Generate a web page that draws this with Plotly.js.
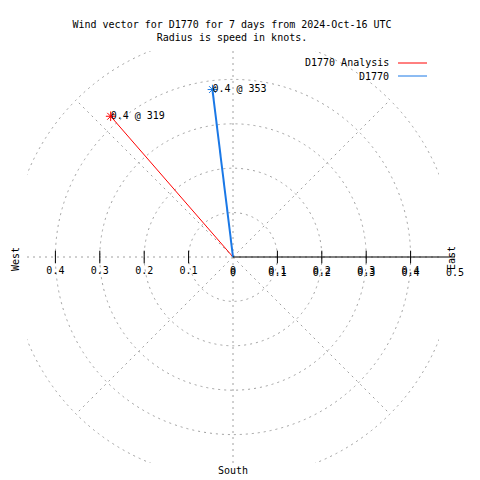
<!DOCTYPE html>
<html>
<head>
<meta charset="utf-8">
<script src="https://cdn.plot.ly/plotly-3.0.1.min.js"></script>
<style>html,body{margin:0;padding:0;background:#fff;}#chart{width:480px;height:480px;}</style>
</head>
<body>
<div id="chart"></div>
<script>
// ---- data ----
const seriesNames = ['D1770 Analysis', 'D1770'];
const speeds = [0.42, 0.38];          // knots
const directions = [319, 353];        // degrees (compass)
const seriesColors = ['#ff0000', '#1a78e6'];
const seriesWidths = [1, 2];
const gridRadii = [0.1, 0.2, 0.3, 0.4, 0.5];
const gridAngles = [0, 45, 90, 135, 180, 225, 270, 315];
const xTickVals = [-0.4, -0.3, -0.2, -0.1, 0, 0.1, 0.2, 0.3, 0.4];
const xTickText = ['0.4', '0.3', '0.2', '0.1', '0', '0.1', '0.2', '0.3', '0.4'];
const rTickVals = [0, 0.1, 0.2, 0.3, 0.4, 0.5];
const rTickText = ['0', '0.1', '0.2', '0.3', '0.4', '0.5'];
const titleText = 'Wind vector for D1770 for 7 days from 2024-Oct-16 UTC<br>Radius is speed in knots.';

// ---- geometry ----
const W = 480, H = 480;
const CX = 233, CY = 257, RPX = 222, RMAX = 0.5, HALF = 206;
const clipRange = HALF / RPX * RMAX;
const FONT = 'DejaVu Sans Mono';
const GRID = '#a0a0a0';

const traces = [];
// tick marks on horizontal axis
traces.push({
  type: 'scatter', x: xTickVals.filter(v => v !== 0), y: xTickVals.filter(v => v !== 0).map(() => 0),
  mode: 'markers', cliponaxis: false, hoverinfo: 'skip', showlegend: false,
  marker: {symbol: 'line-ns-open', size: 9, color: '#000', line: {color: '#000', width: 1}},
  xaxis: 'x', yaxis: 'y'
});
// wind vectors
seriesNames.forEach((name, i) => {
  traces.push({
    type: 'scatterpolar', subplot: 'polar', name: name, showlegend: false,
    r: [0, speeds[i]], theta: [directions[i], directions[i]],
    mode: 'lines', line: {color: seriesColors[i], width: seriesWidths[i]}
  });
  traces.push({
    type: 'scatterpolar', subplot: 'polar', name: name, showlegend: false,
    r: [speeds[i]], theta: [directions[i]],
    mode: 'markers', 
    marker: {symbol: 'asterisk-open', size: 8, color: seriesColors[i], line: {color: seriesColors[i], width: 1}}
  });
  traces.push({
    type: 'scatterpolar', subplot: 'polar', name: name, showlegend: false,
    r: [speeds[i]], theta: [directions[i]],
    mode: 'text', text: [speeds[i].toFixed(1) + ' @ ' + directions[i]],
    textposition: 'middle right', textfont: {family: FONT, size: 10, color: '#000'}
  });
});

const shapes = [];
gridRadii.forEach(r => shapes.push({
  type: 'circle', xref: 'x', yref: 'y', x0: -r, x1: r, y0: -r, y1: r, layer: 'below',
  line: {color: GRID, width: 1, dash: '2px,4px'}
}));
gridAngles.forEach(a => shapes.push({
  type: 'line', xref: 'x', yref: 'y', x0: 0, y0: 0,
  x1: RMAX * Math.cos(a * Math.PI / 180), y1: RMAX * Math.sin(a * Math.PI / 180), layer: 'below',
  line: {color: GRID, width: 1, dash: '2px,4px'}
}));
// legend samples
const legX0 = 398 / W, legX1 = 427 / W, legTextX = 391 / W;
const legY = [63, 76];
const annotations = [];
seriesNames.forEach((name, i) => {
  shapes.push({type: 'line', xref: 'paper', yref: 'paper', x0: legX0, x1: legX1,
    y0: 1 - legY[i] / H, y1: 1 - legY[i] / H, line: {color: seriesColors[i], width: 1}});
  annotations.push({xref: 'paper', yref: 'paper', x: legTextX, y: 1 - legY[i] / H,
    xanchor: 'right', yanchor: 'middle', text: name, showarrow: false,
    font: {family: FONT, size: 10, color: '#000'}});
});
annotations.push({xref: 'paper', yref: 'paper', x: 15 / W, y: 1 - 259 / H, text: 'West', textangle: -90,
  showarrow: false, xanchor: 'center', yanchor: 'middle', font: {family: FONT, size: 10, color: '#000'}});
annotations.push({xref: 'paper', yref: 'paper', x: 451 / W, y: 1 - 258 / H, text: 'East', textangle: -90,
  showarrow: false, xanchor: 'center', yanchor: 'middle', font: {family: FONT, size: 10, color: '#000'}});
annotations.push({xref: 'paper', yref: 'paper', x: 233 / W, y: 1 - 470 / H, text: 'South',
  showarrow: false, xanchor: 'center', yanchor: 'middle', font: {family: FONT, size: 10, color: '#000'}});

const layout = {
  width: W, height: H, margin: {l: 0, r: 0, t: 0, b: 0}, showlegend: false,
  paper_bgcolor: '#fff', plot_bgcolor: 'rgba(0,0,0,0)',
  font: {family: FONT, size: 10, color: '#000'},
  title: {text: titleText, font: {family: FONT, size: 10, color: '#000'},
    x: 232 / W, xanchor: 'center', y: 1 - 27.5 / H, yanchor: 'middle'},
  xaxis: {domain: [(CX - HALF) / W, (CX + HALF) / W], range: [-clipRange, clipRange],
    anchor: 'free', position: 1 - CY / H, tickvals: xTickVals, ticktext: xTickText,
    showgrid: false, zeroline: false, showline: false, ticks: 'outside', ticklen: 4,
    tickcolor: 'rgba(0,0,0,0)', fixedrange: true,
    tickfont: {family: FONT, size: 10, color: '#000'}},
  yaxis: {domain: [1 - (CY + HALF) / H, 1 - (CY - HALF) / H], range: [-clipRange, clipRange],
    visible: false, fixedrange: true},
  polar: {
    domain: {x: [(CX - RPX) / W, (CX + RPX) / W], y: [1 - (CY + RPX) / H, 1 - (CY - RPX) / H]},
    bgcolor: 'rgba(0,0,0,0)',
    angularaxis: {rotation: 90, direction: 'clockwise', visible: false, showgrid: false, showline: false},
    radialaxis: {range: [0, RMAX], angle: 0, showline: true, linecolor: '#000', linewidth: 1,
      showgrid: false, ticks: 'outside', ticklen: 6, tickcolor: 'rgba(0,0,0,0)',
      tickvals: rTickVals, ticktext: rTickText,
      tickfont: {family: FONT, size: 10, color: '#000'}}
  },
  shapes: shapes, annotations: annotations
};
Plotly.newPlot('chart', traces, layout, {staticPlot: true, displayModeBar: false});
</script>
</body>
</html>
